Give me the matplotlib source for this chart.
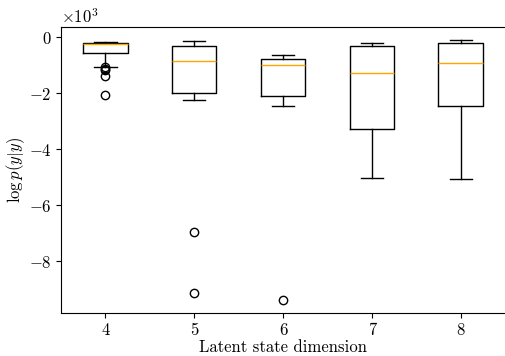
import matplotlib
matplotlib.use("Agg")
import matplotlib.pyplot as plt

plt.rcParams['font.family'] = 'serif'
plt.rcParams['font.serif'] = ['cmr10']
plt.rcParams['mathtext.fontset'] = 'cm'
plt.rcParams['axes.formatter.use_mathtext'] = True
plt.rcParams['axes.unicode_minus'] = False
plt.rcParams['font.size'] = 12

# datos (en unidades de 10^3)
dims = [4, 5, 6, 7, 8]
medianas = [-0.23, -0.85, -0.99, -1.26, -0.93]
q1 = [-0.55, -1.98, -2.10, -3.27, -2.45]
q3 = [-0.20, -0.31, -0.76, -0.31, -0.20]
bigote_bajo = [-1.05, -2.22, -2.45, -5.01, -5.05]
bigote_alto = [-0.17, -0.13, -0.63, -0.20, -0.11]
atipicos = [[-1.06, -1.12, -1.18, -1.39, -2.07], [-6.95, -9.14], [-9.39], [], []]

stats = []
for i in range(len(dims)):
    stats.append({'med': medianas[i] * 1000, 'q1': q1[i] * 1000, 'q3': q3[i] * 1000,
                  'whislo': bigote_bajo[i] * 1000, 'whishi': bigote_alto[i] * 1000,
                  'fliers': [v * 1000 for v in atipicos[i]]})

fig = plt.figure(figsize=(5.05, 3.56), dpi=100)
ax = fig.add_axes([0.121, 0.121, 0.879, 0.803])
ax.bxp(stats, positions=dims, widths=0.5, medianprops={'color': 'orange'})

ax.set_xlim(3.5, 8.5)
ax.set_ylim(-9850, 370)
ax.set_xticks(dims)
ax.set_xticklabels([str(d) for d in dims])
ax.ticklabel_format(axis='y', style='sci', scilimits=(0, 0))
ax.spines['right'].set_visible(False)
ax.set_xlabel('Latent state dimension', labelpad=1)
ax.set_ylabel(r'$\log p(y|y)$', labelpad=1)

plt.savefig('out.png')
